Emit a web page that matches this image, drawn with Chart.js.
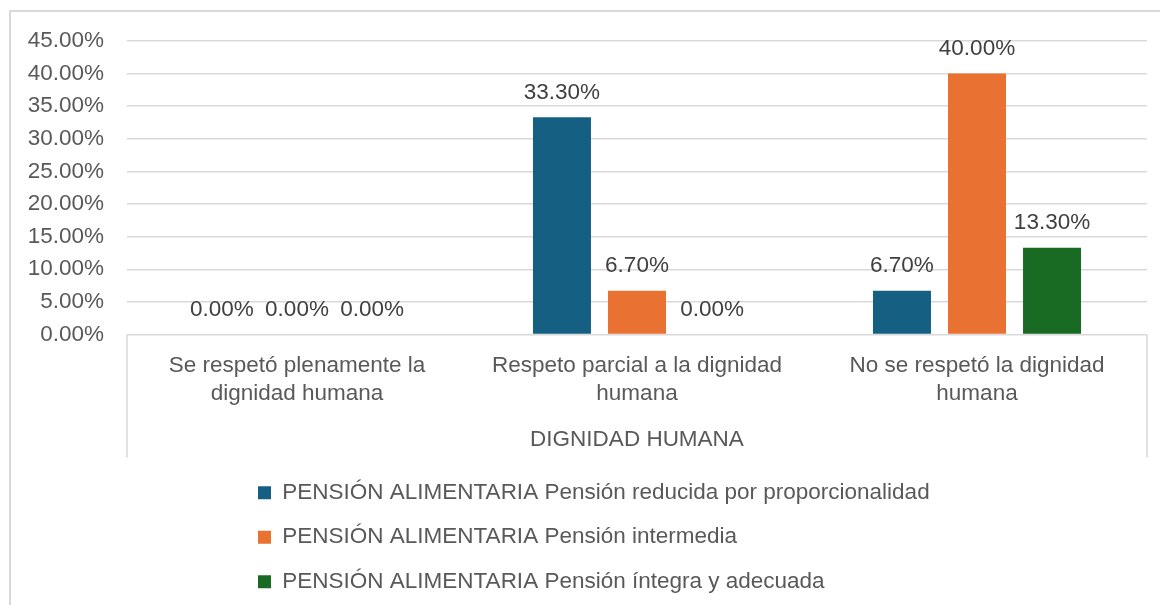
<!DOCTYPE html>
<html>
<head>
<meta charset="utf-8">
<script src="https://cdn.jsdelivr.net/npm/chart.js@4/dist/chart.umd.min.js"></script>
<style>
  html, body { margin: 0; padding: 0; background: #ffffff; overflow: hidden; }
  #wrap { position: relative; width: 1160px; height: 605px; }
  #frame { position: absolute; left: 9px; top: 10px; width: 1300px; height: 800px; border: 2px solid #d9d9d9; box-sizing: border-box; }
  canvas { position: absolute; left: 0; top: 0; }
</style>
</head>
<body>
<div id="wrap">
  <div id="frame"></div>
  <canvas id="c" width="1160" height="605"></canvas>
</div>
<script>
// ---- data ----
const categories = [
  ['Se respetó plenamente la', 'dignidad humana'],
  ['Respeto parcial a la dignidad', 'humana'],
  ['No se respetó la dignidad', 'humana']
];
const axisTitle = 'DIGNIDAD HUMANA';
const seriesNames = [
  'PENSIÓN ALIMENTARIA Pensión reducida por proporcionalidad',
  'PENSIÓN ALIMENTARIA Pensión intermedia',
  'PENSIÓN ALIMENTARIA Pensión íntegra y adecuada'
];
const reducida = [0.00, 33.30, 6.70];
const intermedia = [0.00, 6.70, 40.00];
const integra = [0.00, 0.00, 13.30];
const seriesColors = ['#156082', '#E97132', '#196B24'];
const yMin = 0, yMax = 45, yStep = 5;

const FONT = 'Liberation Sans, Arial, sans-serif';
const FS = 22.5;
const GRID = '#d9d9d9';
const TEXT = '#595959';

const dataLabels = {
  id: 'dataLabels',
  afterDatasetsDraw(chart) {
    const ctx = chart.ctx;
    ctx.save();
    ctx.font = FS + 'px ' + FONT;
    ctx.fillStyle = '#404040';
    ctx.textAlign = 'center';
    ctx.textBaseline = 'middle';
    chart.data.datasets.forEach((ds, di) => {
      const meta = chart.getDatasetMeta(di);
      meta.data.forEach((el, i) => {
        ctx.fillText(ds.data[i].toFixed(2) + '%', el.x, el.y - 25);
      });
    });
    ctx.restore();
  }
};

const categoryBox = {
  id: 'categoryBox',
  afterDraw(chart) {
    const x = chart.scales.x;
    const ctx = chart.ctx;
    ctx.save();
    ctx.strokeStyle = GRID;
    ctx.lineWidth = 1.5;
    ctx.beginPath();
    ctx.moveTo(x.left, x.top);
    ctx.lineTo(x.left, x.bottom - 2);
    ctx.moveTo(x.right, x.top);
    ctx.lineTo(x.right, x.bottom - 2);
    ctx.stroke();
    ctx.restore();
  }
};

const legendShift = {
  id: 'legendShift',
  afterLayout(chart) {
    const lg = chart.legend;
    if (!lg) return;
    const w = lg.width;
    lg.left = 236;
    lg.right = lg.left + w;
  }
};

new Chart(document.getElementById('c'), {
  type: 'bar',
  data: {
    labels: categories,
    datasets: [
      { label: seriesNames[0], data: reducida, backgroundColor: seriesColors[0] },
      { label: seriesNames[1], data: intermedia, backgroundColor: seriesColors[1] },
      { label: seriesNames[2], data: integra, backgroundColor: seriesColors[2] }
    ]
  },
  options: {
    responsive: false,
    animation: false,
    devicePixelRatio: 1,
    categoryPercentage: 0.662,
    barPercentage: 0.773,
    layout: { padding: { top: 41, right: 13, left: 0, bottom: 2 } },
    plugins: {
      tooltip: { enabled: false },
      title: { display: false },
      legend: {
        position: 'bottom',
        align: 'start',
        fullSize: false,
        labels: {
          boxWidth: 13,
          boxHeight: 13,
          padding: 22,
          color: TEXT,
          font: { family: FONT, size: FS }
        }
      }
    },
    scales: {
      x: {
        grid: { display: false, drawTicks: false },
        border: { display: false },
        ticks: {
          autoSkip: false,
          maxRotation: 0,
          padding: 16.5,
          color: TEXT,
          font: { family: FONT, size: FS, lineHeight: 1.28 }
        },
        title: {
          display: true,
          text: axisTitle,
          color: TEXT,
          font: { family: FONT, size: FS, lineHeight: 1.2 },
          padding: { top: 10, bottom: 6 }
        },
        afterFit(scale) { scale.height = 125; }
      },
      y: {
        min: yMin,
        max: yMax,
        grid: { color: GRID, lineWidth: 1.5, drawTicks: false },
        border: { display: false },
        ticks: {
          stepSize: yStep,
          padding: 23,
          color: TEXT,
          font: { family: FONT, size: FS },
          callback: (v) => v.toFixed(2) + '%'
        },
        afterFit(scale) { scale.width = 127; }
      }
    }
  },
  plugins: [dataLabels, categoryBox, legendShift]
});
</script>
</body>
</html>
